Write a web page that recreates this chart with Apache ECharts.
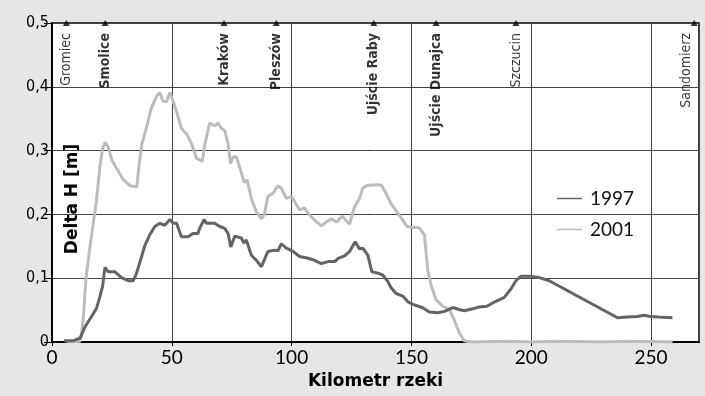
<!DOCTYPE html>
<html><head><meta charset="utf-8">
<script src="https://cdn.jsdelivr.net/npm/echarts@6/dist/echarts.min.js"></script>
<style>html,body{margin:0;padding:0;background:#e6e6e6}#c{width:705px;height:396px}</style>
</head><body><div id="c"></div><script>
// ---- data ----
const km1997 = [5, 9, 11.7, 13.8, 16.5, 18.6, 20, 21.1, 22.1, 23.5, 26.3, 29, 31.8, 33.9, 35.3, 37.4, 38.8, 40.8, 42.9, 45, 47.1, 49.2, 50.6, 52, 54, 56.8, 58.8, 60.9, 61.6, 63.5, 64.4, 67.9, 70, 72.1, 73.5, 74.6, 76.3, 79, 80.1, 81.1, 83.2, 85.3, 87.4, 88.1, 90.1, 92.9, 94.3, 95.7, 97.8, 100.6, 103.3, 106.1, 108.9, 112.4, 115.2, 118, 119.4, 122.1, 124.2, 126.5, 128.3, 129.7, 131.8, 133.5, 136, 138, 140.1, 141.5, 143.6, 146.4, 148.5, 151.3, 154.5, 157.5, 161, 163.8, 167.2, 169.8, 172.1, 175.6, 178.3, 181.5, 184.8, 188.75, 191.5, 193.6, 195.7, 199.5, 203.3, 207.5, 236, 240.1, 244.3, 247, 249.6, 253, 258.9];
const dh1997 = [0.002, 0.002, 0.006, 0.024, 0.04, 0.053, 0.071, 0.087, 0.117, 0.11, 0.11, 0.101, 0.096, 0.096, 0.108, 0.134, 0.152, 0.168, 0.181, 0.186, 0.183, 0.192, 0.186, 0.186, 0.165, 0.165, 0.17, 0.17, 0.178, 0.192, 0.186, 0.186, 0.181, 0.178, 0.17, 0.149, 0.166, 0.163, 0.155, 0.16, 0.136, 0.128, 0.118, 0.115, 0.142, 0.144, 0.143, 0.154, 0.147, 0.142, 0.134, 0.132, 0.129, 0.123, 0.126, 0.126, 0.131, 0.135, 0.142, 0.157, 0.146, 0.147, 0.136, 0.11, 0.108, 0.105, 0.095, 0.085, 0.076, 0.072, 0.063, 0.058, 0.054, 0.047, 0.046, 0.048, 0.054, 0.051, 0.049, 0.052, 0.055, 0.056, 0.063, 0.07, 0.083, 0.096, 0.103, 0.103, 0.101, 0.096, 0.038, 0.039, 0.04, 0.042, 0.04, 0.039, 0.038];
const km2001 = [6.2, 11.7, 12.3, 13.2, 14.2, 15.5, 17, 18.5, 20, 21.2, 22.2, 23.5, 25, 27, 29.8, 32.6, 35.4, 36.4, 37.5, 39.5, 41.3, 43.6, 45, 46.4, 47.8, 49.2, 50.6, 52, 54, 56.4, 58.2, 60.3, 62.7, 63.8, 65.8, 67.9, 69.3, 70.7, 72.1, 73.5, 74.5, 75.6, 77, 78.5, 80.2, 81.4, 83.2, 85.3, 87.4, 88.6, 90.1, 92.2, 94.3, 95.7, 97.8, 99.9, 101.3, 103.3, 105.4, 107.5, 109.6, 112.4, 114.5, 116.6, 118.7, 121.1, 122.8, 124.2, 126.25, 128.3, 129.7, 131.1, 133.2, 137.4, 139.4, 141.5, 144.3, 146.4, 148.2, 149.9, 153.3, 155.4, 156.8, 158.2, 160.3, 163.1, 165.8, 167.9, 170, 172, 175, 190, 200, 210, 230, 240, 259];
const dh2001 = [0, 0.001, 0.01, 0.045, 0.1, 0.14, 0.18, 0.22, 0.275, 0.305, 0.313, 0.305, 0.285, 0.272, 0.254, 0.245, 0.243, 0.28, 0.31, 0.337, 0.365, 0.385, 0.391, 0.377, 0.377, 0.391, 0.377, 0.361, 0.335, 0.325, 0.311, 0.288, 0.283, 0.31, 0.343, 0.339, 0.343, 0.335, 0.331, 0.31, 0.28, 0.29, 0.29, 0.272, 0.25, 0.254, 0.225, 0.204, 0.193, 0.2, 0.228, 0.233, 0.245, 0.241, 0.225, 0.228, 0.22, 0.207, 0.21, 0.199, 0.191, 0.182, 0.188, 0.193, 0.188, 0.197, 0.19, 0.185, 0.212, 0.225, 0.241, 0.245, 0.246, 0.246, 0.233, 0.217, 0.202, 0.191, 0.181, 0.18, 0.179, 0.168, 0.113, 0.089, 0.066, 0.056, 0.051, 0.034, 0.014, 0.002, 0, 0.001, 0, 0.001, 0, 0.001, 0];
const placeKm = [6, 22.2, 71.8, 93.6, 134.3, 160.3, 193.6, 268];
const placeNames = ['Gromiec', 'Smolice', 'Kraków', 'Pleszów', 'Ujście Raby', 'Ujście Dunajca', 'Szczucin', 'Sandomierz'];
const seriesNames = ['1997', '2001'];

// ---- styling ----
const boldPlaces = new Set(['Smolice', 'Kraków', 'Pleszów', 'Ujście Raby', 'Ujście Dunajca']);
const NARROW = '"Liberation Sans Narrow", "DejaVu Sans Condensed", "Roboto Condensed", sans-serif';
const zip = (a, b) => a.map((v, i) => [v, b[i]]);

const chart = echarts.init(document.getElementById('c'), null, {renderer: 'canvas'});
chart.setOption({
  animation: false,
  backgroundColor: '#e6e6e6',
  grid: {left: 52, right: 6, top: 23, bottom: 54, show: true, backgroundColor: '#fff', borderColor: '#000', borderWidth: 1.5},
  legend: {
    show: true, orient: 'vertical', left: 552, top: 184, itemWidth: 31, itemHeight: 1.5, itemGap: 12,
    icon: 'path://M0,0L100,0L100,6L0,6Z',
    data: seriesNames.map(n => ({name: n})),
    textStyle: {fontFamily: 'Lato', fontSize: 19, color: '#111'}
  },
  xAxis: {
    type: 'value', min: 0, max: 270, interval: 50,
    axisLine: {lineStyle: {color: '#000', width: 2}},
    axisTick: {show: true, length: 4, lineStyle: {color: '#000'}},
    axisLabel: {showMaxLabel: false, formatter: v => (v % 50 === 0 ? String(v) : ''), fontFamily: 'Lato', fontSize: 19, color: '#000', margin: 6},
    splitLine: {show: true, lineStyle: {color: '#444', width: 1}},
    name: 'Kilometr rzeki', nameLocation: 'middle', nameGap: 31,
    nameTextStyle: {fontFamily: 'DejaVu Sans', fontWeight: 'bold', fontSize: 17, color: '#000'}
  },
  yAxis: {
    type: 'value', min: 0, max: 0.5, interval: 0.1,
    axisLine: {show: true, lineStyle: {color: '#000', width: 2}},
    axisTick: {show: true, length: 8, lineStyle: {color: '#000'}},
    axisLabel: {formatter: v => String(+v.toFixed(1)).replace('.', ','), fontFamily: NARROW, fontSize: 16, color: '#000', margin: 3},
    splitLine: {show: true, lineStyle: {color: '#444', width: 1}}
  },
  graphic: [{
    type: 'text', x: 73, y: 199, rotation: Math.PI / 2,
    style: {text: 'Delta H [m]', fontFamily: 'DejaVu Sans', fontWeight: 'bold', fontSize: 17, fill: '#000', align: 'center', verticalAlign: 'middle'},
    z: 100
  }],
  series: [
    {name: seriesNames[0], type: 'line', data: zip(km1997, dh1997), showSymbol: false, symbol: 'none', z: 3,
     lineStyle: {color: '#646464', width: 3}, itemStyle: {color: '#646464'}},
    {name: seriesNames[1], type: 'line', data: zip(km2001, dh2001), showSymbol: false, symbol: 'none', z: 2,
     lineStyle: {color: '#bcbcbc', width: 3}, itemStyle: {color: '#bcbcbc'}},
    {name: 'places', type: 'scatter', clip: false, z: 5, symbol: 'triangle', symbolSize: [7, 6],
     itemStyle: {color: '#000'},
     data: placeKm.map((k, i) => ({
       value: [k, 0.5], name: placeNames[i],
       label: {fontWeight: boldPlaces.has(placeNames[i]) ? 'bold' : 'normal',
               position: placeNames[i] === 'Sandomierz' ? [-4.5, 13] : [3.5, 13]}
     })),
     label: {show: true, formatter: '{b}', rotate: 90, align: 'right', verticalAlign: 'middle',
             fontFamily: NARROW, fontSize: 14, color: '#000'}}
  ]
});
</script></body></html>
